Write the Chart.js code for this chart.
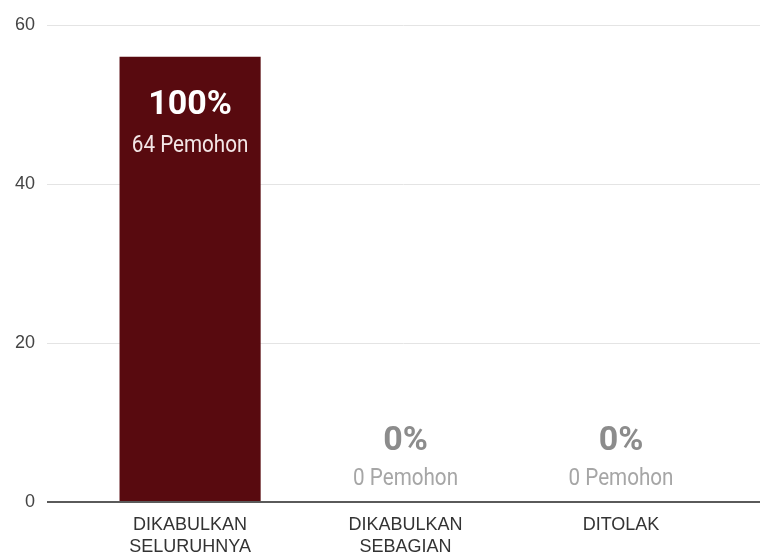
<!DOCTYPE html>
<html>
<head>
<meta charset="utf-8">
<script src="https://cdn.jsdelivr.net/npm/chart.js@4/dist/chart.umd.min.js"></script>
<style>
  html, body { margin: 0; padding: 0; background: #fff; }
  #wrap { width: 760px; height: 556px; }
</style>
</head>
<body>
<div id="wrap"><canvas id="chart"></canvas></div>
<script>
var categories = ['DIKABULKAN SELURUHNYA', 'DIKABULKAN SEBAGIAN', 'DITOLAK'];
var values = [56, 0, 0];
var percents = ['100%', '0%', '0%'];
var applicants = ['64 Pemohon', '0 Pemohon', '0 Pemohon'];
var yTicks = [0, 20, 40, 60];

function squeezeText(ctx, text, x, y, font, color, sx) {
  ctx.save();
  ctx.translate(x, y);
  ctx.scale(sx, 1);
  ctx.font = font;
  ctx.fillStyle = color;
  ctx.textAlign = 'center';
  ctx.textBaseline = 'middle';
  ctx.fillText(text, 0, 0);
  ctx.restore();
}

var barLabels = {
  id: 'barLabels',
  afterDatasetsDraw: function (chart) {
    var ctx = chart.ctx;
    var meta = chart.getDatasetMeta(0);
    meta.data.forEach(function (bar, i) {
      if (values[i] > 0) {
        squeezeText(ctx, percents[i], bar.x, bar.y + 49, 'bold 34px Roboto', '#ffffff', 1);
        squeezeText(ctx, applicants[i], bar.x, bar.y + 89, '24px Roboto', '#f3e6e6', 0.86);
      } else {
        squeezeText(ctx, percents[i], bar.x, bar.base - 61, 'bold 34px Roboto', '#8c8c8c', 1);
        squeezeText(ctx, applicants[i], bar.x, bar.base - 23, '24px Roboto', '#a6a6a6', 0.86);
      }
    });
  }
};

new Chart(document.getElementById('chart'), {
  type: 'bar',
  data: {
    datasets: [{
      data: values.map(function (v, i) { return { x: i, y: v }; }),
      backgroundColor: '#580a0f',
      borderWidth: 0,
      barPercentage: 0.655,
      categoryPercentage: 1
    }]
  },
  options: {
    responsive: true,
    maintainAspectRatio: false,
    animation: false,
    layout: { padding: { top: 25, left: 3, right: 0, bottom: 0 } },
    plugins: { legend: { display: false }, tooltip: { enabled: false } },
    scales: {
      x: {
        type: 'linear',
        offset: false,
        min: -0.664,
        max: 2.645,
        grid: { display: false, offset: false },
        border: { display: false },
        afterBuildTicks: function (scale) {
          scale.ticks = categories.map(function (c, i) { return { value: i }; });
        },
        afterFit: function (scale) { scale.height = 54; },
        ticks: {
          autoSkip: false,
          maxRotation: 0,
          padding: 4,
          color: '#333',
          font: { family: 'Liberation Sans, Arial', size: 18, lineHeight: 1.22 },
          callback: function (v) { return categories[v] ? categories[v].split(' ') : ''; }
        }
      },
      y: {
        min: 0,
        max: 60,
        afterBuildTicks: function (scale) {
          scale.ticks = yTicks.map(function (t) { return { value: t }; });
        },
        border: { display: false },
        grid: {
          drawTicks: false,
          color: function (c) { return c.tick && c.tick.value === 0 ? '#5a5a5a' : '#e4e4e4'; },
          lineWidth: function (c) { return c.tick && c.tick.value === 0 ? 2 : 1; }
        },
        ticks: {
          padding: 12,
          color: '#444',
          font: { family: 'Liberation Sans, Arial', size: 18 }
        }
      }
    }
  },
  plugins: [barLabels]
});
</script>
</body>
</html>
